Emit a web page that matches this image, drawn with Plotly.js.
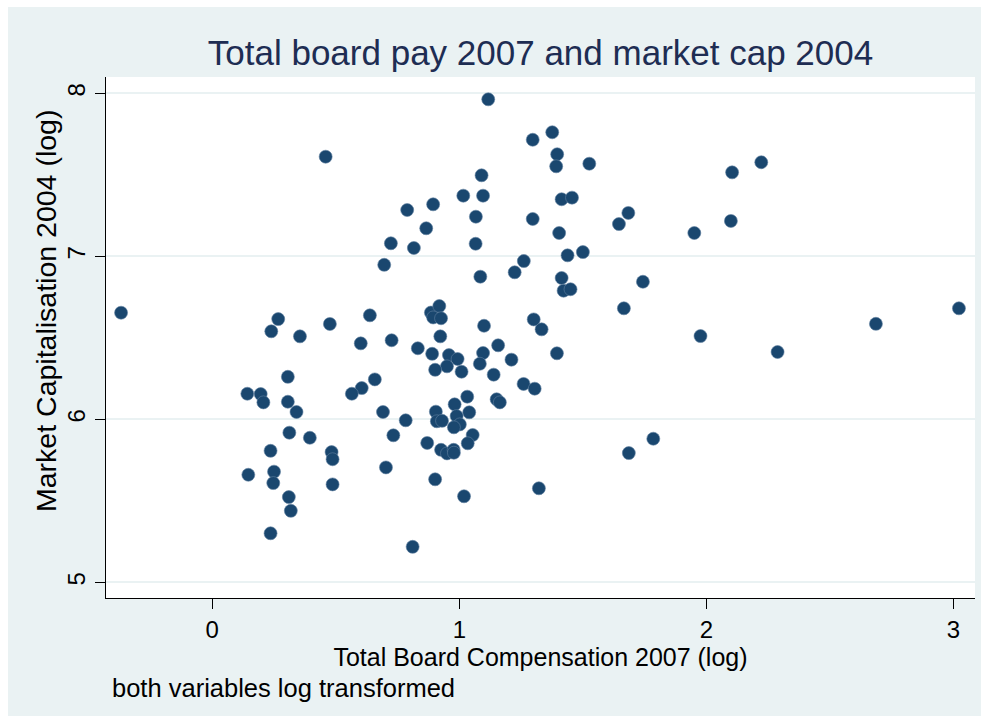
<!DOCTYPE html>
<html>
<head>
<meta charset="utf-8">
<script src="https://cdn.plot.ly/plotly-3.0.1.min.js"></script>
<style>
html,body{margin:0;padding:0;background:#ffffff;width:989px;height:723px;overflow:hidden;}
#chart{position:absolute;left:8px;top:7px;width:973px;height:709px;}
</style>
</head>
<body>
<div id="chart"></div>
<script>
// Total Board Compensation 2007 (log)
var boardPay = [
 0.459, 0.723, 0.696, -0.369, 0.267, 0.476, 0.638,
 1.117, 1.297, 1.376, 1.396, 1.392, 1.526, 1.090, 1.016, 1.096, 0.789, 0.894, 0.866, 0.816,
 1.067, 1.066, 1.297, 1.414, 1.456, 1.404, 1.438, 1.500, 1.646, 1.684,
 1.085, 1.261, 1.224, 1.414, 1.422, 1.450, 1.743, 1.666,
 0.885, 0.919, 0.894, 0.926, 1.100, 1.301, 1.333,
 1.951, 2.104, 2.222, 2.099, 2.686, 3.022,
 0.239, 0.355, 0.601, 0.726, 0.306, 0.658, 0.605, 0.565, 0.142, 0.196, 0.207, 0.306, 0.341, 0.691,
 0.312, 0.395, 0.733, 0.236, 0.483, 0.487, 0.703, 0.146, 0.250, 0.247, 0.487, 0.310, 0.318, 0.236,
 0.832, 0.923, 0.890, 0.958, 0.993, 0.950, 0.902, 1.009, 1.096, 1.083, 1.157, 1.211, 1.139, 1.260, 1.305, 1.395,
 0.783, 1.032, 0.981, 1.151, 1.164, 0.905, 1.040, 0.989, 0.909, 0.930, 1.002, 0.978, 1.054, 1.034, 0.870,
 0.926, 0.950, 0.977, 0.978, 0.902, 1.019, 1.322, 0.811, 1.785, 1.686,
 1.976, 2.288
];
// Market Capitalisation 2004 (log)
var marketCap = [
 7.611, 7.080, 6.948, 6.654, 6.615, 6.585, 6.638,
 7.963, 7.715, 7.761, 7.626, 7.552, 7.568, 7.497, 7.372, 7.372, 7.284, 7.319, 7.172, 7.051,
 7.243, 7.077, 7.229, 7.350, 7.360, 7.143, 7.006, 7.026, 7.198, 7.266,
 6.875, 6.971, 6.902, 6.867, 6.789, 6.798, 6.844, 6.681,
 6.655, 6.695, 6.625, 6.620, 6.574, 6.613, 6.552,
 7.143, 7.515, 7.577, 7.217, 6.586, 6.681,
 6.540, 6.509, 6.466, 6.485, 6.261, 6.245, 6.192, 6.157, 6.157, 6.155, 6.104, 6.108, 6.045, 6.045,
 5.918, 5.887, 5.902, 5.807, 5.799, 5.755, 5.705, 5.660, 5.679, 5.609, 5.601, 5.523, 5.439, 5.301,
 6.436, 6.509, 6.402, 6.394, 6.370, 6.325, 6.304, 6.292, 6.407, 6.341, 6.454, 6.366, 6.274, 6.217, 6.188, 6.405,
 5.994, 6.139, 6.092, 6.123, 6.104, 6.047, 6.043, 6.020, 5.988, 5.991, 5.969, 5.951, 5.904, 5.853, 5.855,
 5.813, 5.791, 5.813, 5.795, 5.632, 5.528, 5.577, 5.218, 5.881, 5.793,
 6.511, 6.413
];
var xTicks = [0, 1, 2, 3];
var yTicks = [5, 6, 7, 8];

var titleText = "Total board pay 2007 and market cap 2004";
var xTitle = "Total Board Compensation 2007 (log)";
var yTitle = "Market Capitalisation 2004 (log)";
var noteText = "both variables log transformed";

var FONT = "Liberation Sans, Arial, sans-serif";

var trace = {
  x: boardPay,
  y: marketCap,
  type: "scatter",
  mode: "markers",
  marker: {color: "#1a476f", size: 13, line: {width: 0.6, color: "#5f7f9f"}},
  hoverinfo: "x+y"
};

var layout = {
  width: 973,
  height: 709,
  paper_bgcolor: "#eaf2f3",
  plot_bgcolor: "#ffffff",
  margin: {l: 98, r: 6, t: 70, b: 118},
  showlegend: false,
  title: {
    text: titleText,
    font: {family: FONT, size: 35, color: "#1e2d53"},
    x: 0.5, xanchor: "center", y: 0.935, yanchor: "middle", xref: "paper"
  },
  xaxis: {
    range: [-0.43, 3.087],
    tickvals: xTicks,
    ticktext: xTicks.map(String),
    showgrid: false,
    zeroline: false,
    showline: true, linecolor: "#000000", linewidth: 1,
    ticks: "outside", ticklen: 10, tickcolor: "#000000", tickwidth: 1,
    tickfont: {family: FONT, size: 24, color: "#000000"},
    title: {text: xTitle, font: {family: FONT, size: 25, color: "#000000"}, standoff: 0}
  },
  yaxis: {
    range: [4.904, 8.1],
    tickvals: yTicks,
    ticktext: yTicks.map(String),
    tickangle: -90,
    showgrid: true, gridcolor: "#eaf2f3", gridwidth: 2,
    zeroline: false,
    showline: true, linecolor: "#000000", linewidth: 1,
    ticks: "outside", ticklen: 10, tickcolor: "#000000", tickwidth: 1,
    tickfont: {family: FONT, size: 24, color: "#000000"}
  },
  annotations: [{
    text: yTitle,
    xref: "paper", yref: "paper",
    x: -0.069, y: 0.551, xanchor: "center", yanchor: "middle",
    textangle: -90,
    showarrow: false,
    font: {family: FONT, size: 28.5, color: "#000000"}
  }, {
    text: noteText,
    xref: "paper", yref: "paper",
    x: 0.005, y: -0.172, xanchor: "left", yanchor: "middle",
    showarrow: false,
    font: {family: FONT, size: 25.5, color: "#000000"}
  }]
};

Plotly.newPlot("chart", [trace], layout, {displayModeBar: false, staticPlot: true});
</script>
</body>
</html>
